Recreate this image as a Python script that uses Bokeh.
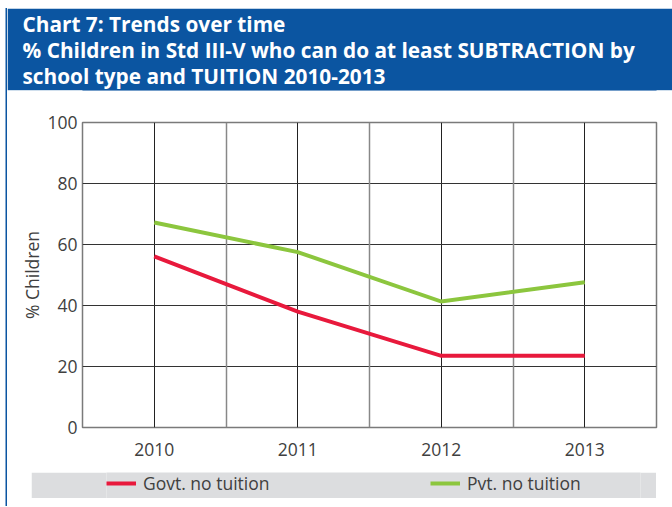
from bokeh.plotting import figure
from bokeh.layouts import column
from bokeh.models import (Legend, LegendItem, FixedTicker, Grid, Range1d, Title)
from bokeh.embed import file_html
from bokeh.resources import INLINE

# ---- data ----
years = [2010, 2011, 2012, 2013]
govt_no_tuition = [56.1, 38.0, 23.5, 23.5]
pvt_no_tuition = [67.2, 57.5, 41.3, 47.6]
y_ticks = [0, 20, 40, 60, 80, 100]
title_lines = [
    "Chart 7: Trends over time",
    "% Children in Std III-V who can do at least SUBTRACTION by",
    "school type and TUITION 2010-2013",
]
series_labels = ["Govt. no tuition", "Pvt. no tuition"]
y_label = "% Children"

BLUE = "#0b55a1"
RED = "#e8193c"
GREEN = "#8cc63e"
GREY_BAND = "#dcdddf"
TXT = "#404040"
FONT = "Open Sans"
FS = "17.5px"
W = 665
NAN = float("nan")

# ---- header ----
hp = figure(width=W, height=82, x_range=Range1d(0, 1), y_range=Range1d(0, 1),
            toolbar_location=None, output_backend="svg",
            min_border_left=75, min_border_right=16, min_border_top=0,
            min_border_bottom=0, outline_line_color=None)
hp.axis.visible = False
hp.grid.visible = False
hp.background_fill_color = BLUE
hp.border_fill_color = BLUE
hp.add_layout(Title(text="\n".join(title_lines), align="left", offset=-60,
                    text_color="white", text_font=FONT, text_font_style="bold",
                    text_font_size="20.8px", text_line_height=0.925,
                    standoff=1), "above")

# ---- main plot ----
p = figure(width=W, height=381, x_range=Range1d(2009.5, 2013.5),
           y_range=Range1d(0, 100), toolbar_location=None, output_backend="svg",
           min_border_left=75, min_border_right=16, min_border_top=32,
           min_border_bottom=44)
p.background_fill_color = "white"
p.border_fill_color = "white"
p.outline_line_color = "#7a7a7a"
p.outline_line_width = 1.5

p.xaxis.ticker = FixedTicker(ticks=years)
p.yaxis.ticker = FixedTicker(ticks=y_ticks)
for ax in (p.xaxis[0], p.yaxis[0]):
    ax.axis_line_color = None
    ax.major_tick_line_color = None
    ax.minor_tick_line_color = None
    ax.major_tick_in = 0
    ax.major_tick_out = 0
    ax.major_label_text_font = FONT
    ax.major_label_text_font_size = FS
    ax.major_label_text_color = TXT
p.xaxis.major_label_standoff = 15
p.yaxis.major_label_standoff = 5
p.yaxis.axis_label = y_label
p.yaxis.axis_label_text_font = FONT
p.yaxis.axis_label_text_font_size = FS
p.yaxis.axis_label_text_font_style = "normal"
p.yaxis.axis_label_text_color = TXT
p.yaxis.axis_label_standoff = 0

p.xgrid.ticker = FixedTicker(ticks=years)
p.xgrid.grid_line_color = "#222222"
p.xgrid.grid_line_width = 1
p.ygrid.grid_line_color = "#333333"
p.ygrid.grid_line_width = 1
half_ticks = [y + 0.5 for y in years[:-1]]
p.add_layout(Grid(dimension=0, ticker=FixedTicker(ticks=half_ticks),
                  grid_line_color="#888888", grid_line_width=1.5))

p.line(years, govt_no_tuition, line_color=RED, line_width=4, line_join="miter")
p.line(years, pvt_no_tuition, line_color=GREEN, line_width=4, line_join="miter")

# ---- footer legend band ----
fp = figure(width=625, height=26, x_range=Range1d(0, 1), y_range=Range1d(0, 1),
            toolbar_location=None, output_backend="svg",
            min_border_left=51, min_border_right=0, min_border_top=0,
            min_border_bottom=0, outline_line_color=None,
            margin=(1, 0, 8, 24))
fp.axis.visible = False
fp.grid.visible = False
fp.background_fill_color = GREY_BAND
fp.border_fill_color = GREY_BAND
# key-only renderers (no visible data) so the legend swatches can be drawn here
k1 = fp.line(x=[NAN], y=[NAN], line_color=RED, line_width=4)
k2 = fp.line(x=[NAN], y=[NAN], line_color=GREEN, line_width=4)
legend = Legend(items=[LegendItem(label=series_labels[0], renderers=[k1]),
                       LegendItem(label=series_labels[1], renderers=[k2])],
                location=(0, 3), orientation="horizontal",
                background_fill_alpha=0, border_line_color=None,
                padding=0, margin=0, spacing=137, glyph_width=30,
                glyph_height=20, label_width=150, label_height=20,
                label_standoff=7, label_text_font=FONT,
                label_text_font_size=FS, label_text_color=TXT)
fp.add_layout(legend)

layout = column(hp, p, fp, spacing=0, margin=(8, 0, 0, 7),
                styles={"box-shadow": "-1.5px 0 0 0 " + BLUE})

open("out.html", "w").write(file_html(layout, INLINE))
